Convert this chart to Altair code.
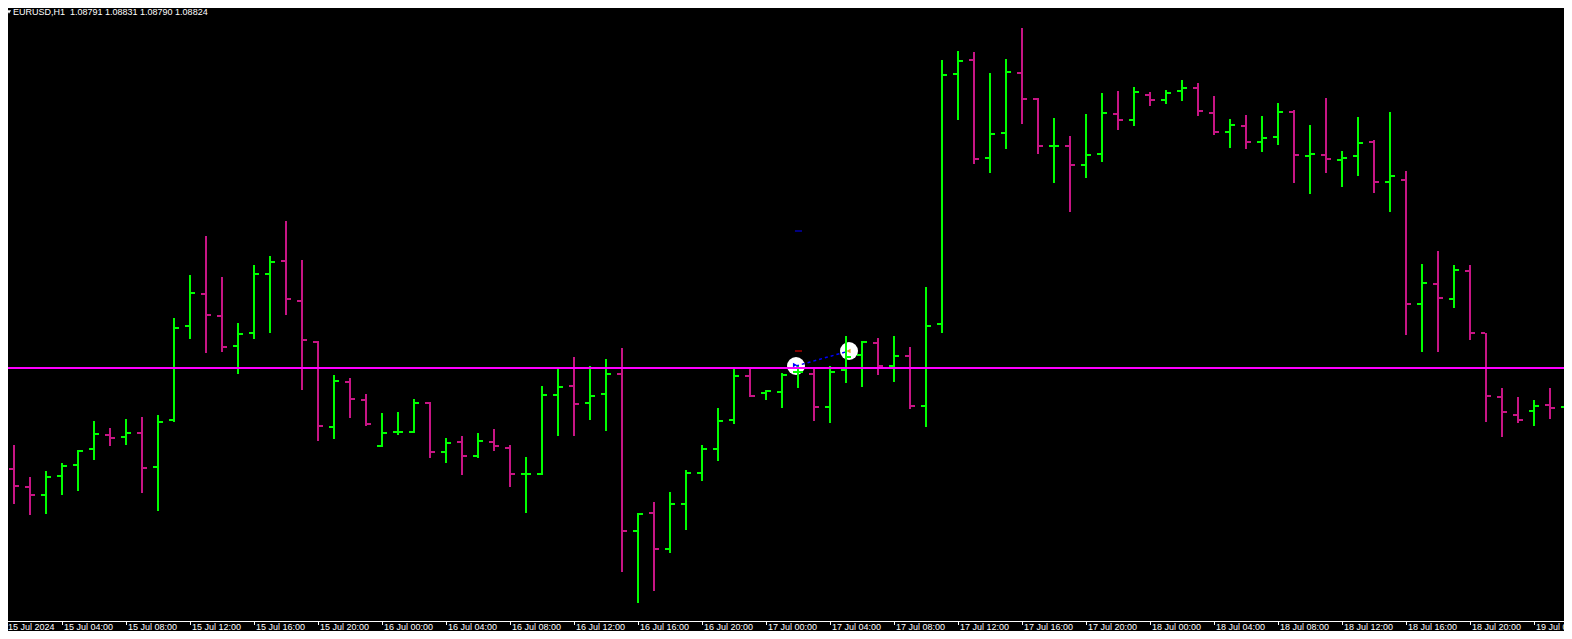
import altair as alt
import pandas as pd

# ---------------- data (EURUSD H1, 15 Jul 2024 00:00 -> 19 Jul 2024 02:00) ----------------
bar_index = list(range(99))

open_ = [1.09045, 1.09039, 1.09021, 1.09013, 1.09032, 1.09043, 1.09059, 1.09073, 1.09071, 1.09075,
         1.09041, 1.09088, 1.09182, 1.09214, 1.09192, 1.09162, 1.09175, 1.09234, 1.09247, 1.09207,
         1.09166, 1.09081, 1.09126, 1.09108, 1.09062, 1.09076, 1.09076, 1.09105, 1.09056, 1.09066,
         1.09052, 1.09066, 1.09060, 1.09034, 1.09034, 1.09113, 1.09122, 1.09105, 1.09114, 1.09134,
         1.08977, 1.08995, 1.08959, 1.09004, 1.09035, 1.09059, 1.09088, 1.09132, 1.09115, 1.09116,
         1.09136, 1.09134, 1.09101, 1.09138, 1.09153, 1.09165, 1.09142, 1.09152, 1.09102, 1.09184,
         1.09434, 1.09448, 1.09350, 1.09375, 1.09435, 1.09409, 1.09362, 1.09362, 1.09343, 1.09354,
         1.09394, 1.09388, 1.09413, 1.09408, 1.09417, 1.09420, 1.09395, 1.09376, 1.09382, 1.09366,
         1.09371, 1.09396, 1.09352, 1.09353, 1.09348, 1.09352, 1.09366, 1.09326, 1.09328, 1.09204,
         1.09224, 1.09209, 1.09237, 1.09175, 1.09111, 1.09093, 1.09097, 1.09103, 1.09101]

high = [1.09060, 1.09063, 1.09031, 1.09037, 1.09045, 1.09058, 1.09087, 1.09080, 1.09089, 1.09091,
        1.09093, 1.09190, 1.09233, 1.09272, 1.09231, 1.09185, 1.09243, 1.09252, 1.09287, 1.09248,
        1.09167, 1.09133, 1.09130, 1.09114, 1.09095, 1.09096, 1.09109, 1.09106, 1.09070, 1.09072,
        1.09075, 1.09079, 1.09063, 1.09051, 1.09122, 1.09140, 1.09151, 1.09142, 1.09149, 1.09160,
        1.08995, 1.09006, 1.09016, 1.09038, 1.09063, 1.09100, 1.09141, 1.09139, 1.09118, 1.09135,
        1.09143, 1.09140, 1.09142, 1.09172, 1.09167, 1.09170, 1.09172, 1.09161, 1.09221, 1.09448,
        1.09457, 1.09456, 1.09435, 1.09449, 1.09480, 1.09410, 1.09390, 1.09372, 1.09394, 1.09415,
        1.09417, 1.09421, 1.09416, 1.09418, 1.09428, 1.09425, 1.09412, 1.09389, 1.09393, 1.09392,
        1.09405, 1.09398, 1.09383, 1.09410, 1.09357, 1.09391, 1.09368, 1.09396, 1.09337, 1.09244,
        1.09257, 1.09243, 1.09243, 1.09175, 1.09120, 1.09111, 1.09108, 1.09120, 1.09133]

low = [1.09038, 1.09004, 1.08993, 1.08994, 1.09013, 1.09017, 1.09048, 1.09062, 1.09063, 1.09015,
       1.08997, 1.09086, 1.09169, 1.09155, 1.09156, 1.09134, 1.09169, 1.09175, 1.09193, 1.09118,
       1.09067, 1.09069, 1.09090, 1.09082, 1.09061, 1.09073, 1.09075, 1.09050, 1.09045, 1.09033,
       1.09050, 1.09057, 1.09021, 1.08995, 1.09033, 1.09072, 1.09072, 1.09088, 1.09077, 1.08936,
       1.08905, 1.08917, 1.08955, 1.08978, 1.09027, 1.09047, 1.09084, 1.09111, 1.09108, 1.09100,
       1.09120, 1.09087, 1.09085, 1.09125, 1.09121, 1.09133, 1.09126, 1.09099, 1.09081, 1.09175,
       1.09388, 1.09344, 1.09335, 1.09359, 1.09384, 1.09354, 1.09325, 1.09296, 1.09330, 1.09346,
       1.09378, 1.09382, 1.09402, 1.09404, 1.09407, 1.09392, 1.09373, 1.09360, 1.09359, 1.09356,
       1.09363, 1.09325, 1.09314, 1.09335, 1.09321, 1.09332, 1.09315, 1.09296, 1.09173, 1.09156,
       1.09156, 1.09200, 1.09168, 1.09086, 1.09071, 1.09085, 1.09082, 1.09089, 1.09093]

close = [1.09051, 1.09022, 1.09013, 1.09031, 1.09042, 1.09057, 1.09074, 1.09070, 1.09075, 1.09040,
         1.09086, 1.09180, 1.09215, 1.09193, 1.09161, 1.09174, 1.09234, 1.09246, 1.09209, 1.09168,
         1.09082, 1.09127, 1.09109, 1.09084, 1.09075, 1.09076, 1.09105, 1.09056, 1.09065, 1.09052,
         1.09067, 1.09062, 1.09034, 1.09034, 1.09113, 1.09121, 1.09104, 1.09112, 1.09134, 1.08977,
         1.08994, 1.08959, 1.09004, 1.09035, 1.09059, 1.09087, 1.09132, 1.09112, 1.09117, 1.09133,
         1.09136, 1.09101, 1.09136, 1.09151, 1.09166, 1.09142, 1.09152, 1.09102, 1.09182, 1.09433,
         1.09447, 1.09349, 1.09374, 1.09436, 1.09409, 1.09362, 1.09362, 1.09343, 1.09353, 1.09395,
         1.09388, 1.09416, 1.09408, 1.09415, 1.09420, 1.09397, 1.09376, 1.09383, 1.09366, 1.09370,
         1.09396, 1.09353, 1.09354, 1.09349, 1.09350, 1.09365, 1.09326, 1.09332, 1.09204, 1.09225,
         1.09210, 1.09238, 1.09175, 1.09112, 1.09096, 1.09088, 1.09102, 1.09100, 1.09120]

tick_values = list(range(0, 97, 4))
tick_labels = ["15 Jul 2024", "15 Jul 04:00", "15 Jul 08:00", "15 Jul 12:00", "15 Jul 16:00", "15 Jul 20:00",
               "16 Jul 00:00", "16 Jul 04:00", "16 Jul 08:00", "16 Jul 12:00", "16 Jul 16:00", "16 Jul 20:00",
               "17 Jul 00:00", "17 Jul 04:00", "17 Jul 08:00", "17 Jul 12:00", "17 Jul 16:00", "17 Jul 20:00",
               "18 Jul 00:00", "18 Jul 04:00", "18 Jul 08:00", "18 Jul 12:00", "18 Jul 16:00", "18 Jul 20:00",
               "19 Jul 00:00"]

level_line = [1.09140]                       # horizontal line
trade_x = [49.875, 53.1875]                  # trade circles (bar-index positions)
trade_price = [1.09142, 1.09157]
entry_x, entry_price = [49.81], [1.09143]
exit_x, exit_price = [53.16], [1.09157]
sl_tp_x = [49.81]
sl_tp_x2 = [50.25]
tp_price = [1.09157]
sl_price = [1.09277]

header_text = ["EURUSD,H1\u00a0\u00a01.08791 1.08831 1.08790 1.08824"]

# ---------------- chart ----------------
df = pd.DataFrame({"i": bar_index, "open": open_, "high": high, "low": low, "close": close})
df["dir"] = ["up" if c >= o else "down" for o, c in zip(open_, close)]

W, H = 1556, 623
AXIS_Y = 613
X_MIN = 0.625
x_scale = alt.Scale(domain=[X_MIN, X_MIN + W / 16], nice=False, zero=False)
y_scale = alt.Scale(domain=[1.08877, 1.09500], nice=False, zero=False)
color = alt.Color("dir:N", scale=alt.Scale(domain=["up", "down"], range=["#00FF00", "#C71585"]), legend=None)


def xq(field):
    return alt.X(field, scale=x_scale, axis=None)


def yq(field):
    return alt.Y(field, scale=y_scale, axis=None)


base = alt.Chart(df)
wicks = base.mark_rule(strokeWidth=2).encode(x=xq("i:Q"), y=yq("high:Q"), y2="low:Q", color=color)
open_tick = base.mark_rule(strokeWidth=2, xOffset=-5, x2Offset=-1).encode(
    x=xq("i:Q"), x2="i:Q", y=yq("open:Q"), color=color)
close_tick = base.mark_rule(strokeWidth=2, xOffset=1, x2Offset=5).encode(
    x=xq("i:Q"), x2="i:Q", y=yq("close:Q"), color=color)

hline = alt.Chart(pd.DataFrame({"p": level_line})).mark_rule(color="#FF00FF", strokeWidth=2).encode(
    y=yq("p:Q"))

tdf = pd.DataFrame({"tx": trade_x, "tp": trade_price})
circles = alt.Chart(tdf).mark_point(filled=True, shape="circle", size=324, color="#FFFFFF", opacity=1).encode(
    x=xq("tx:Q"), y=yq("tp:Q"))
tline = alt.Chart(tdf).mark_line(color="#0000FF", strokeDash=[3, 3], strokeWidth=1.5).encode(
    x=xq("tx:Q"), y=yq("tp:Q"))
entry = alt.Chart(pd.DataFrame({"ex": entry_x, "ep": entry_price})).mark_point(
    filled=True, shape="triangle-right", size=22, color="#0000FF", opacity=1).encode(
    x=xq("ex:Q"), y=yq("ep:Q"))
exit_ = alt.Chart(pd.DataFrame({"ex": exit_x, "ep": exit_price})).mark_point(
    filled=True, shape="triangle-left", size=22, color="#DAA520", opacity=1).encode(
    x=xq("ex:Q"), y=yq("ep:Q"))
tp_dash = alt.Chart(pd.DataFrame({"a": sl_tp_x, "b": sl_tp_x2, "p": tp_price})).mark_rule(
    color="#FF0000", strokeWidth=1).encode(x=xq("a:Q"), x2="b:Q", y=yq("p:Q"))
sl_dash = alt.Chart(pd.DataFrame({"a": sl_tp_x, "b": sl_tp_x2, "p": sl_price})).mark_rule(
    color="#0000FF", strokeWidth=1).encode(x=xq("a:Q"), x2="b:Q", y=yq("p:Q"))

# time axis drawn from the tick arrays
tdf_ticks = pd.DataFrame({"tv": tick_values, "tl": tick_labels})
axis_line = alt.Chart(pd.DataFrame({"k": [0]})).mark_rule(color="#FFFFFF", strokeWidth=1).encode(
    x=alt.value(0), x2=alt.value(W), y=alt.value(AXIS_Y + 0.5))
axis_ticks = alt.Chart(tdf_ticks).mark_rule(color="#FFFFFF", strokeWidth=1, xOffset=0.5).encode(
    x=xq("tv:Q"), y=alt.value(AXIS_Y), y2=alt.value(AXIS_Y + 4))
axis_labels = alt.Chart(tdf_ticks).transform_calculate(
    lx="max(datum.tv, %f)" % (X_MIN - 2 / 16)
).mark_text(
    align="left", baseline="top", dx=2, font="Liberation Sans", fontSize=9, color="#FFFFFF").encode(
    x=xq("lx:Q"), y=alt.value(AXIS_Y + 2), text="tl:N")

header = alt.Chart(pd.DataFrame({"t": header_text})).mark_text(
    align="left", baseline="top", font="Liberation Sans", fontSize=9, color="#FFFFFF").encode(
    x=alt.value(5), y=alt.value(0), text="t:N")
tri = alt.Chart(pd.DataFrame({"t": header_text})).mark_point(
    filled=True, shape="triangle-down", size=18, color="#FFFFFF", opacity=1).encode(
    x=alt.value(1), y=alt.value(4))

chart = alt.layer(circles, wicks, open_tick, close_tick, hline, tline, entry, exit_, tp_dash, sl_dash,
                  axis_line, axis_ticks, axis_labels, header, tri).properties(
    width=W, height=H, padding=0, background="#000000",
    autosize=alt.AutoSizeParams(type="none")
).configure_view(strokeWidth=0)

chart.save("out.html", embed_options={"renderer": "svg", "actions": False})
